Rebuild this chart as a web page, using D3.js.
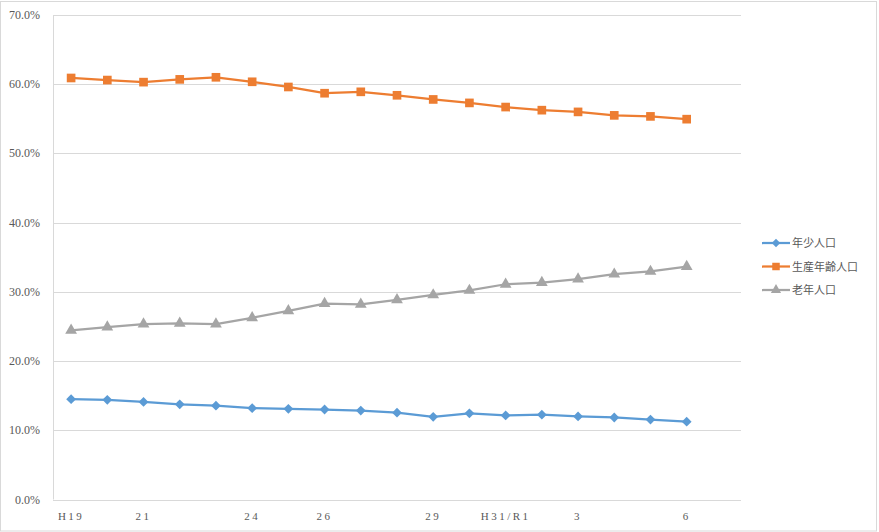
<!DOCTYPE html>
<html><head><meta charset="utf-8">
<script src="https://cdn.jsdelivr.net/npm/d3@7/dist/d3.min.js"></script>
<style>body{margin:0;background:#fff}svg{display:block}</style>
</head><body>
<svg id="c" width="879" height="532"></svg>
<script>
const categories = ["H19","20","21","22","23","24","25","26","27","28","29","30","H31/R1","2","3","4","5","6",""];
const shownLabels = ["H19","21","24","26","29","H31/R1","3","6"];
const seriesNames = ["年少人口","生産年齢人口","老年人口"];
const youth   = [14.5,14.4,14.1,13.75,13.55,13.2,13.1,13.0,12.85,12.55,11.95,12.45,12.15,12.25,12.0,11.85,11.55,11.25];
const working = [60.9,60.6,60.3,60.7,61.0,60.35,59.6,58.7,58.9,58.4,57.8,57.3,56.7,56.25,56.0,55.5,55.35,54.95];
const elderly = [24.45,24.9,25.35,25.45,25.35,26.25,27.25,28.3,28.2,28.85,29.55,30.2,31.1,31.35,31.85,32.55,32.95,33.65];
const yTicks = [0,10,20,30,40,50,60,70];
const colors = ["#5b9bd5","#ed7d31","#a5a5a5"];
const symbols = [d3.symbolSquare, d3.symbolSquare, d3.symbolTriangle];
const rotations = [45, 0, 0];

const svg = d3.select("#c");
const L = 53, R = 741, T = 15, B = 499.5;
const x = d3.scaleBand().domain(categories.map((c,i)=>i)).range([L,R]);
const y = d3.scaleLinear().domain([0,70]).range([B,T]);
const grey = "#d9d9d9", txt = "#595959";

svg.append("rect").attr("x",0.5).attr("y",1.5).attr("width",876).attr("height",529.5)
  .attr("fill","none").attr("stroke",grey);

// gridlines
svg.append("g").selectAll("line").data(yTicks).join("line")
  .attr("x1",L).attr("x2",R).attr("y1",d=>Math.round(y(d))+0.5).attr("y2",d=>Math.round(y(d))+0.5)
  .attr("stroke",grey).attr("stroke-width",1);
svg.append("line").attr("x1",L+0.5).attr("x2",L+0.5).attr("y1",T).attr("y2",B).attr("stroke",grey);

// y labels
svg.append("g").selectAll("text").data(yTicks).join("text")
  .attr("x",40).attr("y",d=>y(d)+4).attr("text-anchor","end")
  .attr("font-family","'Liberation Serif','DejaVu Serif',serif").attr("font-size",12)
  .attr("fill",txt).text(d=>d.toFixed(1)+"%");

// x labels
svg.append("g").selectAll("text").data(categories.map((c,i)=>({c,i})).filter(d=>shownLabels.includes(d.c)))
  .join("text")
  .attr("x",d=>x(d.i)+x.bandwidth()/2).attr("y",520).attr("text-anchor","middle")
  .attr("font-family","'Liberation Serif','DejaVu Serif',serif").attr("font-size",11)
  .attr("letter-spacing","2.5px")
  .attr("fill",txt).text(d=>d.c);

const data = [youth, working, elderly];
const sizes = [48, 75, 60];
const cx = i => x(i)+x.bandwidth()/2;
const line = d3.line().x((d,i)=>cx(i)).y(d=>y(d));
data.forEach((s,k)=>{
  const g = svg.append("g");
  g.append("path").datum(s).attr("d",line).attr("fill","none")
    .attr("stroke",colors[k]).attr("stroke-width",2.25).attr("stroke-linejoin","round");
  g.selectAll("path.m").data(s).join("path").attr("class","m")
    .attr("transform",(d,i)=>`translate(${cx(i)},${y(d)}) rotate(${rotations[k]})`)
    .attr("d",d3.symbol().type(symbols[k]).size(sizes[k]))
    .attr("fill",colors[k]);
});

// legend
const lg = svg.append("g");
seriesNames.forEach((n,k)=>{
  const yy = 243 + k*23.5;
  lg.append("line").attr("x1",762).attr("x2",790).attr("y1",yy).attr("y2",yy)
    .attr("stroke",colors[k]).attr("stroke-width",2.25);
  lg.append("path").attr("transform",`translate(776,${yy}) rotate(${rotations[k]})`)
    .attr("d",d3.symbol().type(symbols[k]).size(sizes[k]*0.75)).attr("fill",colors[k]);
  lg.append("text").attr("x",792).attr("y",yy+4)
    .attr("font-family","'Noto Sans CJK JP',sans-serif").attr("font-size",11)
    .attr("fill",txt).text(n);
});
</script>
</body></html>
